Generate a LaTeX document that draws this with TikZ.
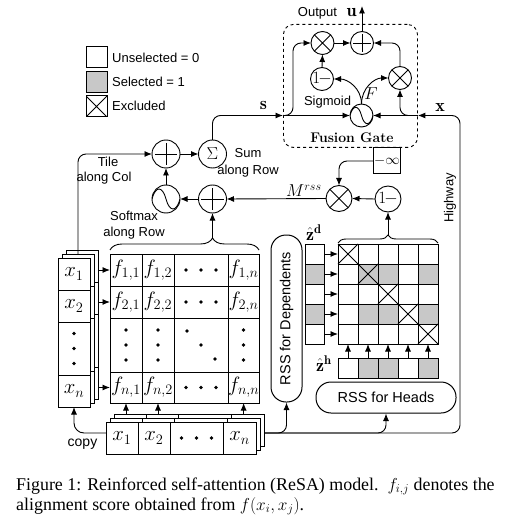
\documentclass[tikz,border=0pt]{standalone}
\usepackage{fontspec}
\usepackage{graphicx}
\setsansfont{Liberation Sans}
\newfontfamily\capfont{Liberation Serif}
\usetikzlibrary{calc,arrows.meta,decorations.pathreplacing}
\definecolor{selgray}{RGB}{200,200,200}
\tikzset{
  box/.style={draw, line width=1pt, fill=white, inner sep=0pt, outer sep=0pt, anchor=north west},
  lab/.style={font=\sffamily\fontsize{13}{15.5}\selectfont, inner sep=0pt},
  mth/.style={font=\fontsize{20}{24}\selectfont},
  arr/.style={line width=0.9pt, -{Latex[length=7.5pt,width=6pt]}},
  ln/.style={line width=0.9pt},
  opc/.style={circle, draw, line width=0.9pt, fill=white, minimum size=2*#1, inner sep=0pt, outer sep=0pt},
  plusc/.style={opc=#1, path picture={\draw[line width=0.9pt] ($(path picture bounding box.north)!0.1!(path picture bounding box.south)$) -- ($(path picture bounding box.north)!0.9!(path picture bounding box.south)$) ($(path picture bounding box.west)!0.1!(path picture bounding box.east)$) -- ($(path picture bounding box.west)!0.9!(path picture bounding box.east)$);}},
  timesc/.style={opc=#1, path picture={\draw[line width=0.9pt] ($(path picture bounding box.north west)!0.146!(path picture bounding box.south east)$) -- ($(path picture bounding box.north west)!0.854!(path picture bounding box.south east)$) ($(path picture bounding box.south west)!0.146!(path picture bounding box.north east)$) -- ($(path picture bounding box.south west)!0.854!(path picture bounding box.north east)$);}},
  sinec/.style={opc=#1, path picture={\draw[line width=0.9pt, shift={(path picture bounding box.center)}] ({-1*#1pt},0pt) .. controls ({-0.75*#1pt},{0.95*#1pt}) and ({-0.25*#1pt},{0.95*#1pt}) .. (0pt,0pt) .. controls ({0.25*#1pt},{-0.95*#1pt}) and ({0.75*#1pt},{-0.95*#1pt}) .. ({#1pt},0pt);}},
  xcell/.style={path picture={\draw[line width=0.9pt] (path picture bounding box.north west) -- (path picture bounding box.south east) (path picture bounding box.south west) -- (path picture bounding box.north east);}},
  brc/.style={line width=0.9pt, decorate, decoration={brace, amplitude=#1}}
}
\begin{document}
\begin{tikzpicture}[x=1pt,y=-1pt]
\useasboundingbox (0,0) rectangle (529,521);

% ---------- legend
\node[box, minimum width=21, minimum height=21] (lgU) at (86,47) {};
\node[box, fill=selgray, minimum width=21, minimum height=21] (lgS) at (86,72) {};
\node[box, xcell, minimum width=21, minimum height=21] (lgX) at (86,96) {};
\node[lab, anchor=base west] (lgUt) at (112,63) {Unselected = 0};
\node[lab, anchor=base west] (lgSt) at (112,87) {Selected = 1};
\node[lab, anchor=base west] (lgXt) at (112,111) {Excluded};

% ---------- left column stack
\foreach \o/\n in {8/C,4/B} {
  \node[box, minimum width=32, minimum height=32] (col\n1) at (58+\o,258-\o) {};
  \node[box, minimum width=32, minimum height=32] (col\n2) at (58+\o,290-\o) {};
  \node[box, minimum width=32, minimum height=53] (col\n3) at (58+\o,322-\o) {};
  \node[box, minimum width=32, minimum height=32] (col\n4) at (58+\o,375-\o) {};
}
\node[box, mth, minimum width=32, minimum height=32] (colF1) at (58,258) {$x_1$};
\node[box, mth, minimum width=32, minimum height=32] (colF2) at (58,290) {$x_2$};
\node[box, minimum width=32, minimum height=53] (colF3) at (58,322) {};
\node[box, mth, minimum width=32, minimum height=32] (colF4) at (58,375) {$x_n$};

% ---------- bottom row stack
\foreach \o/\n in {8/C,4/B} {
  \node[box, minimum width=32, minimum height=32] (bs\n1) at (106+\o,422-\o) {};
  \node[box, minimum width=32, minimum height=32] (bs\n2) at (138+\o,422-\o) {};
  \node[box, minimum width=53, minimum height=32] (bs\n3) at (170+\o,422-\o) {};
  \node[box, minimum width=33, minimum height=32] (bs\n4) at (223+\o,422-\o) {};
}
\node[box, mth, minimum width=32, minimum height=32] (bsF1) at (106,422) {$x_1$};
\node[box, mth, minimum width=32, minimum height=32] (bsF2) at (138,422) {$x_2$};
\node[box, minimum width=53, minimum height=32] (bsF3) at (170,422) {};
\node[box, mth, minimum width=33, minimum height=32] (bsF4) at (223,422) {$x_n$};

% ---------- big matrix
\node[box, mth, minimum width=32, minimum height=32] (m11) at (110,254) {$f_{1,1}$};
\node[box, mth, minimum width=32, minimum height=32] (m12) at (142,254) {$f_{1,2}$};
\node[box, minimum width=54, minimum height=32] (m13) at (174,254) {};
\node[box, mth, minimum width=31, minimum height=32] (m14) at (228,254) {$f_{1,n}$};
\node[box, mth, minimum width=32, minimum height=32] (m21) at (110,286) {$f_{2,1}$};
\node[box, mth, minimum width=32, minimum height=32] (m22) at (142,286) {$f_{2,2}$};
\node[box, minimum width=54, minimum height=32] (m23) at (174,286) {};
\node[box, mth, minimum width=31, minimum height=32] (m24) at (228,286) {$f_{2,n}$};
\node[box, minimum width=32, minimum height=54] (m31) at (110,318) {};
\node[box, minimum width=32, minimum height=54] (m32) at (142,318) {};
\node[box, minimum width=54, minimum height=54] (m33) at (174,318) {};
\node[box, minimum width=31, minimum height=54] (m34) at (228,318) {};
\node[box, mth, minimum width=32, minimum height=31] (m41) at (110,372) {$f_{n,1}$};
\node[box, mth, minimum width=32, minimum height=31] (m42) at (142,372) {$f_{n,2}$};
\node[box, minimum width=54, minimum height=31] (m43) at (174,372) {};
\node[box, mth, minimum width=31, minimum height=31] (m44) at (228,372) {$f_{n,n}$};

% dots
\foreach \c in {m13,m23,m43,bsF3} {
  \foreach \d in {-15,0,15} \fill ([shift={(\d,0)}]\c.center) circle[radius=1.9pt];
}
\foreach \c in {m31,m32,m34,colF3} {
  \foreach \d in {-15,0,15} \fill ([shift={(0,\d)}]\c.center) circle[radius=1.9pt];
}
\foreach \d in {-14,0,14} \fill ([shift={(\d,\d)}]m33.center) circle[radius=1.9pt];

% ---------- small selection matrix
\foreach \i/\rg in {0/0,1/1,2/0,3/1,4/0} {
  \foreach \j/\cg in {0/0,1/1,2/1,3/0,4/1} {
    \pgfmathtruncatemacro{\g}{\rg*\cg}
    \ifnum\g=1 \def\cf{selgray}\else\def\cf{white}\fi
    \node[box, fill=\cf, minimum width=20, minimum height=20] (s\i\j) at (338+20*\j,244+20*\i) {};
  }
  \ifnum\rg=1 \def\cf{selgray}\else\def\cf{white}\fi
  \node[box, fill=\cf, minimum width=19, minimum height=20] (zd\i) at (305,244+20*\i) {};
}
\foreach \j/\cg in {0/0,1/1,2/1,3/0,4/1} {
  \ifnum\cg=1 \def\cf{selgray}\else\def\cf{white}\fi
  \node[box, fill=\cf, minimum width=20, minimum height=20] (zh\j) at (338+20*\j,358) {};
}
\foreach \k in {0,...,4} \draw[ln] (s\k\k.north west) -- (s\k\k.south east) (s\k\k.south west) -- (s\k\k.north east);
\node[font=\fontsize{18}{18}\selectfont, anchor=base west, inner sep=0pt] (zdL) at (306,240) {$\hat{\mathbf{z}}^{\mathbf{d}}$};
\node[font=\fontsize{18}{18}\selectfont, anchor=base west, inner sep=0pt] (zhL) at (316,371) {$\hat{\mathbf{z}}^{\mathbf{h}}$};

% ---------- RSS modules
\node[draw, line width=1pt, rounded corners=15, minimum width=31, minimum height=167, inner sep=0pt] (rssD) at (286.5,318.5) {};
\node[lab, font=\sffamily\fontsize{14.5}{16}\selectfont] (rssDt) at (rssD.center) {\rotatebox{90}{RSS for Dependents}};
\node[draw, line width=1pt, rounded corners=15, minimum width=140, minimum height=31, inner sep=0pt, font=\sffamily\fontsize{14.5}{16}\selectfont] (rssH) at (386,397.5) {RSS for Heads};

% ---------- circles left
\node[plusc=14] (addT) at (166,154) {};
\node[opc=14, font=\fontsize{19}{19}\selectfont] (sumS) at (212.5,154) {$\Sigma$};
\node[sinec=14] (smax) at (166,199) {};
\node[plusc=14] (addM) at (212.5,199) {};

% ---------- mask part
\node[timesc=13] (mulM) at (339,198.5) {};
\node[opc=13, font=\fontsize{18}{18}\selectfont] (oneM) at (388,199) {\makebox[0pt]{$1\mkern-2mu-$}};
\node[draw, line width=1pt, minimum width=27, minimum height=26, inner sep=0pt, font=\fontsize{15}{15}\selectfont] (inf) at (387,161) {$-\infty$};
\node[font=\fontsize{18}{18}\selectfont, anchor=base west, inner sep=0pt] (mL) at (286,196.5) {$M^{rss}$};

% ---------- fusion gate
\node[draw, dashed, line width=0.9pt, rounded corners=10, minimum width=134, minimum height=123, anchor=north west, inner sep=0pt] (gate) at (283,24) {};
\node[font=\bfseries\fontsize{14}{14}\selectfont, anchor=base, inner sep=0pt] (gateL) at (352,143) {Fusion Gate};
\node[timesc=11.5] (mulL) at (322.5,43) {};
\node[plusc=11.5] (addO) at (362,43) {};
\node[opc=11.5, font=\fontsize{17}{17}\selectfont] (oneG) at (322,79) {\makebox[0pt]{$1\mkern-2mu-$}};
\node[timesc=11.5] (mulR) at (400,78) {};
\node[sinec=11.5] (sigm) at (361.5,115.5) {};
\node[lab, anchor=base] (sigL) at (327.5,106) {Sigmoid};
\node[font=\fontsize{18}{18}\selectfont, anchor=base, inner sep=0pt] (FL) at (371,100) {$F$};
\node[lab, anchor=base] (outL) at (317.5,17) {Output};
\node[font=\fontsize{18}{18}\selectfont, anchor=base, inner sep=0pt] (uL) at (351.5,17) {$\mathbf{u}$};
\coordinate (outc) at (362,6);

% ---------- other labels
\node[lab, anchor=base] (tile1) at (108,167) {Tile};
\node[lab, anchor=base] (tile2) at (104,182) {along Col};
\node[lab, anchor=base] (sum1) at (248,158) {Sum};
\node[lab, anchor=base] (sum2) at (248,175) {along Row};
\node[lab, anchor=base] (sm1) at (134,220) {Softmax};
\node[lab, anchor=base] (sm2) at (134,236) {along Row};
\node[font=\fontsize{18}{18}\selectfont, anchor=base, inner sep=0pt] (sL) at (263.5,110) {$\mathbf{s}$};
\node[font=\fontsize{18}{18}\selectfont, anchor=base, inner sep=0pt] (xL) at (440,112) {$\mathbf{x}$};
\node[lab, rotate=90] (hwL) at (450,198) {Highway};
\node[lab, font=\sffamily\fontsize{14}{16}\selectfont, anchor=base] (copyL) at (82.5,446) {copy};

% ---------- coordinates
\coordinate (gin) at (gate.west |- sigm);
\coordinate (gxin) at (gate.east |- sigm);
\coordinate (hw0) at (bsC4.east |- 0,433);
\coordinate (hwB) at (460,433);
\coordinate (hwT) at (460,115.5);
\coordinate (cp0) at (bsF1.west |- hw0);
\coordinate (br1a) at (110,250);
\coordinate (br1b) at (259,250);
\coordinate (br1t) at (212.5,238);
\coordinate (br2a) at (338,243);
\coordinate (br2b) at (438,243);
\coordinate (br2t) at (388,235);

% ---------- braces
\draw[brc=12pt, decoration={aspect=0.688}] (br1a) -- (br1b);
\draw[brc=8pt] (br2a) -- (br2b);
\draw[arr] (br1t) -- (addM.south);
\draw[arr] (br2t) -- (oneM.south);

% ---------- connectors
\foreach \r in {1,2,4} \draw[arr] (colC1.east |- m\r1.west) -- (m\r1.west);
\foreach \c in {1,2,4} \draw[arr] (m4\c.south |- bsC1.north) -- (m4\c.south);
\foreach \i in {0,...,4} \draw[arr] (zd\i.east) -- (s\i0.west);
\foreach \j in {0,...,4} \draw[arr] (zh\j.north) -- (s4\j.south);

\draw[arr, rounded corners=8] (colB1.north) |- (addT.west);
\draw[arr] (addT.east) -- (sumS.west);
\draw[arr] (smax.north) -- (addT.south);
\draw[arr] (addM.west) -- (smax.east);
\draw[arr] (mulM.west) -- (addM.east);
\draw[arr] (oneM.west) -- (mulM.east);
\draw[arr, rounded corners=8] (inf.west) -| (mulM.north);

\draw[arr, rounded corners=8] (sumS.north) |- (gin);
\draw[arr] (gin) -- (sigm.west);
\draw[arr, rounded corners=8] (gin) -| ($(mulL.west)+(-18,0)$) -- (mulL.west);
\draw[arr, rounded corners=8] (hw0) -- (hwB) -- (hwT) -- (gxin);
\draw[arr] (gxin) -- (sigm.east);
\draw[arr, rounded corners=8] (gxin) -| (mulR.south);
\draw[arr] (sigm.north) .. controls +(0,-16) and +(14,0) .. (oneG.east);
\draw[arr] (sigm.north) .. controls +(0,-16) and +(-14,0) .. (mulR.west);
\draw[arr] (oneG.north) -- (mulL.south);
\draw[arr] (mulL.east) -- (addO.west);
\draw[arr, rounded corners=8] (mulR.north) |- (addO.east);
\draw[arr] (addO.north) -- (outc);

\draw[arr, rounded corners=8] (hw0) -| (rssD.south);
\draw[arr, rounded corners=8] (hw0) -| (rssH.south);
\draw[arr, rounded corners=10] (cp0) -| (colF4.south);

% ---------- caption
\node[font=\capfont\fontsize{17.9}{20}\selectfont, anchor=base west, inner sep=0pt] (cap1) at (16,490) {Figure 1: Reinforced self-attention (ReSA) model.\ \ $f_{i,j}$ denotes the};
\node[font=\capfont\fontsize{17.9}{20}\selectfont, anchor=base west, inner sep=0pt] (cap2) at (16,510) {alignment score obtained from $f(x_i,x_j)$.};
\end{tikzpicture}
\end{document}
